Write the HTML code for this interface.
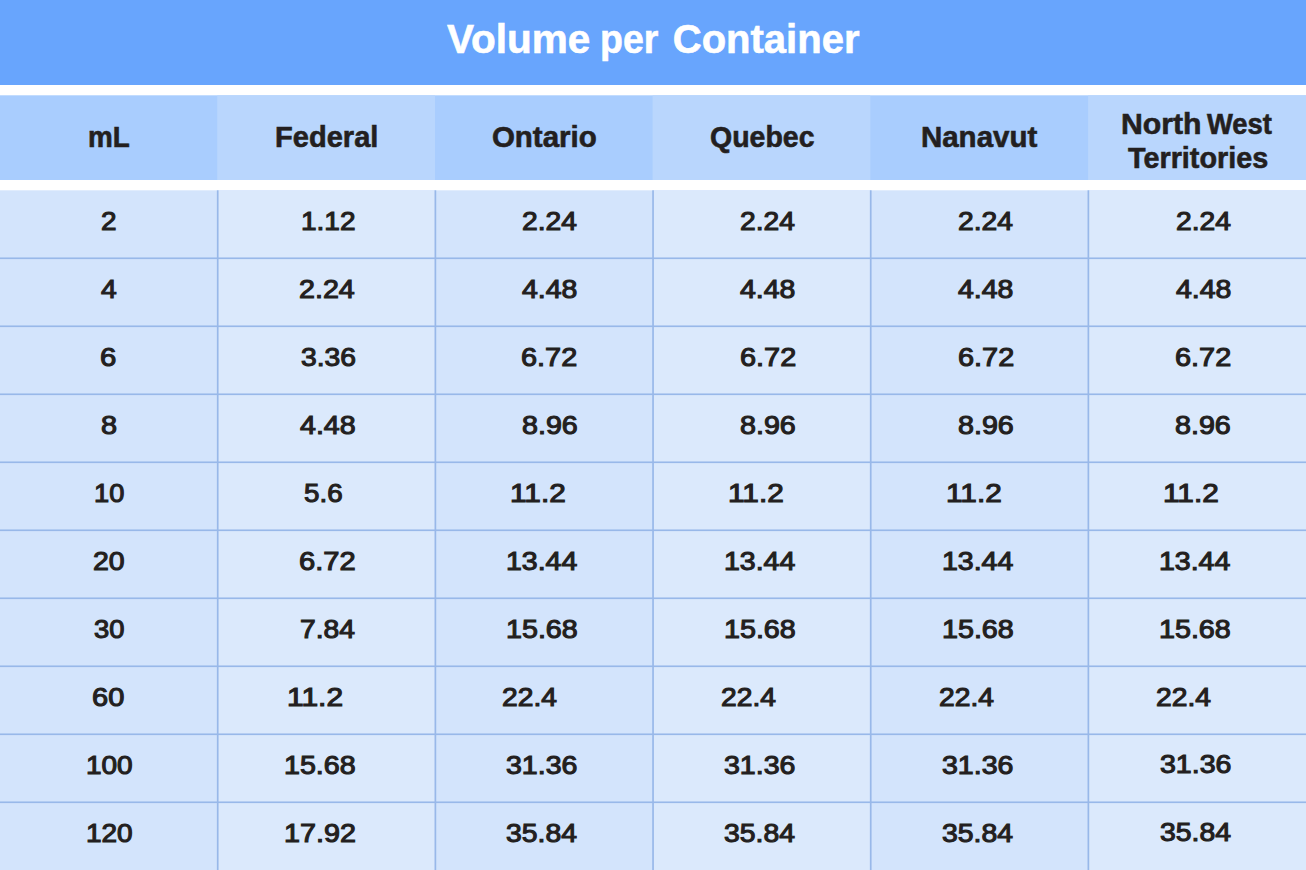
<!DOCTYPE html>
<html><head><meta charset="utf-8"><title>Volume per Container</title>
<style>
html,body{margin:0;padding:0;background:#fff;}
body{width:1306px;height:870px;position:relative;overflow:hidden;font-family:"Liberation Sans",sans-serif;color:#231f20;}
svg.bg{position:absolute;left:0;top:0;}
.t{position:absolute;white-space:nowrap;font-weight:bold;line-height:1;transform-origin:0 0;}
.n{font-weight:normal;-webkit-text-stroke:1.1px #231f20;}
.h{-webkit-text-stroke:0.6px #231f20;}
.w{color:#fff;-webkit-text-stroke:0.6px #fff;}
</style></head><body>
<svg class="bg" width="1306" height="870" viewBox="0 0 1306 870"><rect x="0" y="0" width="1306" height="85" fill="#68a5fd"/><rect x="0" y="95.3" width="1306" height="84.7" fill="#a9cdfe"/><rect x="0" y="190.3" width="1306" height="679.7" fill="#d3e4fc"/><rect x="217.2" y="95.3" width="217.80" height="84.7" fill="#b9d6fd"/><rect x="217.67" y="190.3" width="217.66" height="679.7" fill="#dbe9fc"/><rect x="652.6" y="95.3" width="217.70" height="84.7" fill="#b9d6fd"/><rect x="653.0" y="190.3" width="217.67" height="679.7" fill="#dbe9fc"/><rect x="1088.1" y="95.3" width="217.90" height="84.7" fill="#b9d6fd"/><rect x="1088.33" y="190.3" width="217.67" height="679.7" fill="#dbe9fc"/><rect x="216.87" y="190.3" width="1.7" height="679.7" fill="#98b8e9"/><rect x="434.53" y="190.3" width="1.7" height="679.7" fill="#98b8e9"/><rect x="652.20" y="190.3" width="1.7" height="679.7" fill="#98b8e9"/><rect x="869.87" y="190.3" width="1.7" height="679.7" fill="#98b8e9"/><rect x="1087.53" y="190.3" width="1.7" height="679.7" fill="#98b8e9"/><rect x="0" y="257.45" width="1306" height="1.65" fill="#98b8e9"/><rect x="0" y="325.45" width="1306" height="1.65" fill="#98b8e9"/><rect x="0" y="393.45" width="1306" height="1.65" fill="#98b8e9"/><rect x="0" y="461.45" width="1306" height="1.65" fill="#98b8e9"/><rect x="0" y="529.45" width="1306" height="1.65" fill="#98b8e9"/><rect x="0" y="597.45" width="1306" height="1.65" fill="#98b8e9"/><rect x="0" y="665.45" width="1306" height="1.65" fill="#98b8e9"/><rect x="0" y="733.45" width="1306" height="1.65" fill="#98b8e9"/><rect x="0" y="801.45" width="1306" height="1.65" fill="#98b8e9"/></svg>
<span class="t w" style="left:446.80px;top:19.14px;font-size:40px;transform:scaleX(1.0128);">Volume</span>
<span class="t w" style="left:599.55px;top:19.14px;font-size:40px;transform:scaleX(0.9363);">per</span>
<span class="t w" style="left:672.80px;top:19.14px;font-size:40px;">Container</span>
<span class="t h" style="left:87.77px;top:121.73px;font-size:29.5px;transform:scaleX(0.9442);">mL</span>
<span class="t h" style="left:274.63px;top:121.73px;font-size:29.5px;transform:scaleX(0.9853);">Federal</span>
<span class="t h" style="left:491.92px;top:121.73px;font-size:29.5px;">Ontario</span>
<span class="t h" style="left:709.95px;top:121.73px;font-size:29.5px;transform:scaleX(0.9663);">Quebec</span>
<span class="t h" style="left:920.91px;top:121.73px;font-size:29.5px;">Nanavut</span>
<span class="t h" style="left:1121.27px;top:109.13px;font-size:29.5px;transform:scaleX(1.0244);">North</span>
<span class="t h" style="left:1207.41px;top:109.13px;font-size:29.5px;transform:scaleX(0.9290);">West</span>
<span class="t h" style="left:1127.60px;top:143.13px;font-size:29.5px;transform:scaleX(0.9756);">Territories</span>
<span class="t n" style="left:100.80px;top:208.66px;font-size:25.8px;transform:scaleX(1.0826);">2</span>
<span class="t n" style="left:300.90px;top:208.66px;font-size:25.8px;transform:scaleX(1.0862);">1.12</span>
<span class="t n" style="left:522.09px;top:208.66px;font-size:25.8px;transform:scaleX(1.0937);">2.24</span>
<span class="t n" style="left:740.39px;top:208.66px;font-size:25.8px;transform:scaleX(1.0937);">2.24</span>
<span class="t n" style="left:958.19px;top:208.66px;font-size:25.8px;transform:scaleX(1.0937);">2.24</span>
<span class="t n" style="left:1175.89px;top:208.66px;font-size:25.8px;transform:scaleX(1.0937);">2.24</span>
<span class="t n" style="left:100.77px;top:276.66px;font-size:25.8px;transform:scaleX(1.0970);">4</span>
<span class="t n" style="left:299.48px;top:276.66px;font-size:25.8px;transform:scaleX(1.1099);">2.24</span>
<span class="t n" style="left:522.07px;top:276.66px;font-size:25.8px;transform:scaleX(1.1027);">4.48</span>
<span class="t n" style="left:740.37px;top:276.66px;font-size:25.8px;transform:scaleX(1.1027);">4.48</span>
<span class="t n" style="left:958.17px;top:276.66px;font-size:25.8px;transform:scaleX(1.1027);">4.48</span>
<span class="t n" style="left:1175.87px;top:276.66px;font-size:25.8px;transform:scaleX(1.1027);">4.48</span>
<span class="t n" style="left:100.36px;top:344.66px;font-size:25.8px;transform:scaleX(1.1356);">6</span>
<span class="t n" style="left:300.64px;top:344.66px;font-size:25.8px;transform:scaleX(1.0952);">3.36</span>
<span class="t n" style="left:521.47px;top:344.66px;font-size:25.8px;transform:scaleX(1.1191);">6.72</span>
<span class="t n" style="left:739.77px;top:344.66px;font-size:25.8px;transform:scaleX(1.1191);">6.72</span>
<span class="t n" style="left:957.57px;top:344.66px;font-size:25.8px;transform:scaleX(1.1191);">6.72</span>
<span class="t n" style="left:1175.27px;top:344.66px;font-size:25.8px;transform:scaleX(1.1191);">6.72</span>
<span class="t n" style="left:100.59px;top:412.66px;font-size:25.8px;transform:scaleX(1.1190);">8</span>
<span class="t n" style="left:299.97px;top:412.66px;font-size:25.8px;transform:scaleX(1.1088);">4.48</span>
<span class="t n" style="left:521.69px;top:412.66px;font-size:25.8px;transform:scaleX(1.1103);">8.96</span>
<span class="t n" style="left:739.99px;top:412.66px;font-size:25.8px;transform:scaleX(1.1103);">8.96</span>
<span class="t n" style="left:957.79px;top:412.66px;font-size:25.8px;transform:scaleX(1.1103);">8.96</span>
<span class="t n" style="left:1175.49px;top:412.66px;font-size:25.8px;transform:scaleX(1.1103);">8.96</span>
<span class="t n" style="left:94.34px;top:480.66px;font-size:25.8px;transform:scaleX(1.0546);">10</span>
<span class="t n" style="left:304.48px;top:480.66px;font-size:25.8px;transform:scaleX(1.0765);">5.6</span>
<span class="t n" style="left:509.50px;top:480.66px;font-size:25.8px;transform:scaleX(1.1535);">11.2</span>
<span class="t n" style="left:727.80px;top:480.66px;font-size:25.8px;transform:scaleX(1.1535);">11.2</span>
<span class="t n" style="left:945.60px;top:480.66px;font-size:25.8px;transform:scaleX(1.1535);">11.2</span>
<span class="t n" style="left:1163.30px;top:480.66px;font-size:25.8px;transform:scaleX(1.1535);">11.2</span>
<span class="t n" style="left:92.98px;top:548.66px;font-size:25.8px;transform:scaleX(1.1026);">20</span>
<span class="t n" style="left:299.16px;top:548.66px;font-size:25.8px;transform:scaleX(1.1293);">6.72</span>
<span class="t n" style="left:505.67px;top:548.66px;font-size:25.8px;transform:scaleX(1.1044);">13.44</span>
<span class="t n" style="left:723.97px;top:548.66px;font-size:25.8px;transform:scaleX(1.1044);">13.44</span>
<span class="t n" style="left:941.77px;top:548.66px;font-size:25.8px;transform:scaleX(1.1044);">13.44</span>
<span class="t n" style="left:1159.47px;top:548.66px;font-size:25.8px;transform:scaleX(1.1044);">13.44</span>
<span class="t n" style="left:94.16px;top:616.66px;font-size:25.8px;transform:scaleX(1.0610);">30</span>
<span class="t n" style="left:300.22px;top:616.66px;font-size:25.8px;transform:scaleX(1.0952);">7.84</span>
<span class="t n" style="left:505.66px;top:616.66px;font-size:25.8px;transform:scaleX(1.1112);">15.68</span>
<span class="t n" style="left:723.96px;top:616.66px;font-size:25.8px;transform:scaleX(1.1112);">15.68</span>
<span class="t n" style="left:941.76px;top:616.66px;font-size:25.8px;transform:scaleX(1.1112);">15.68</span>
<span class="t n" style="left:1159.46px;top:616.66px;font-size:25.8px;transform:scaleX(1.1112);">15.68</span>
<span class="t n" style="left:92.37px;top:684.66px;font-size:25.8px;transform:scaleX(1.1244);">60</span>
<span class="t n" style="left:286.99px;top:684.66px;font-size:25.8px;transform:scaleX(1.1600);">11.2</span>
<span class="t n" style="left:502.49px;top:684.66px;font-size:25.8px;transform:scaleX(1.0937);">22.4</span>
<span class="t n" style="left:720.79px;top:684.66px;font-size:25.8px;transform:scaleX(1.0937);">22.4</span>
<span class="t n" style="left:938.59px;top:684.66px;font-size:25.8px;transform:scaleX(1.0937);">22.4</span>
<span class="t n" style="left:1156.29px;top:684.66px;font-size:25.8px;transform:scaleX(1.0937);">22.4</span>
<span class="t n" style="left:85.70px;top:752.66px;font-size:25.8px;transform:scaleX(1.0845);">100</span>
<span class="t n" style="left:283.96px;top:752.66px;font-size:25.8px;transform:scaleX(1.1096);">15.68</span>
<span class="t n" style="left:506.04px;top:752.66px;font-size:25.8px;transform:scaleX(1.1053);">31.36</span>
<span class="t n" style="left:724.34px;top:752.66px;font-size:25.8px;transform:scaleX(1.1053);">31.36</span>
<span class="t n" style="left:942.14px;top:752.66px;font-size:25.8px;transform:scaleX(1.1053);">31.36</span>
<span class="t n" style="left:1159.84px;top:751.56px;font-size:25.8px;transform:scaleX(1.1053);">31.36</span>
<span class="t n" style="left:85.70px;top:820.66px;font-size:25.8px;transform:scaleX(1.0845);">120</span>
<span class="t n" style="left:283.96px;top:820.66px;font-size:25.8px;transform:scaleX(1.1131);">17.92</span>
<span class="t n" style="left:506.04px;top:820.66px;font-size:25.8px;transform:scaleX(1.0987);">35.84</span>
<span class="t n" style="left:724.34px;top:820.66px;font-size:25.8px;transform:scaleX(1.0987);">35.84</span>
<span class="t n" style="left:942.14px;top:820.66px;font-size:25.8px;transform:scaleX(1.0987);">35.84</span>
<span class="t n" style="left:1159.84px;top:819.56px;font-size:25.8px;transform:scaleX(1.0987);">35.84</span>
</body></html>
